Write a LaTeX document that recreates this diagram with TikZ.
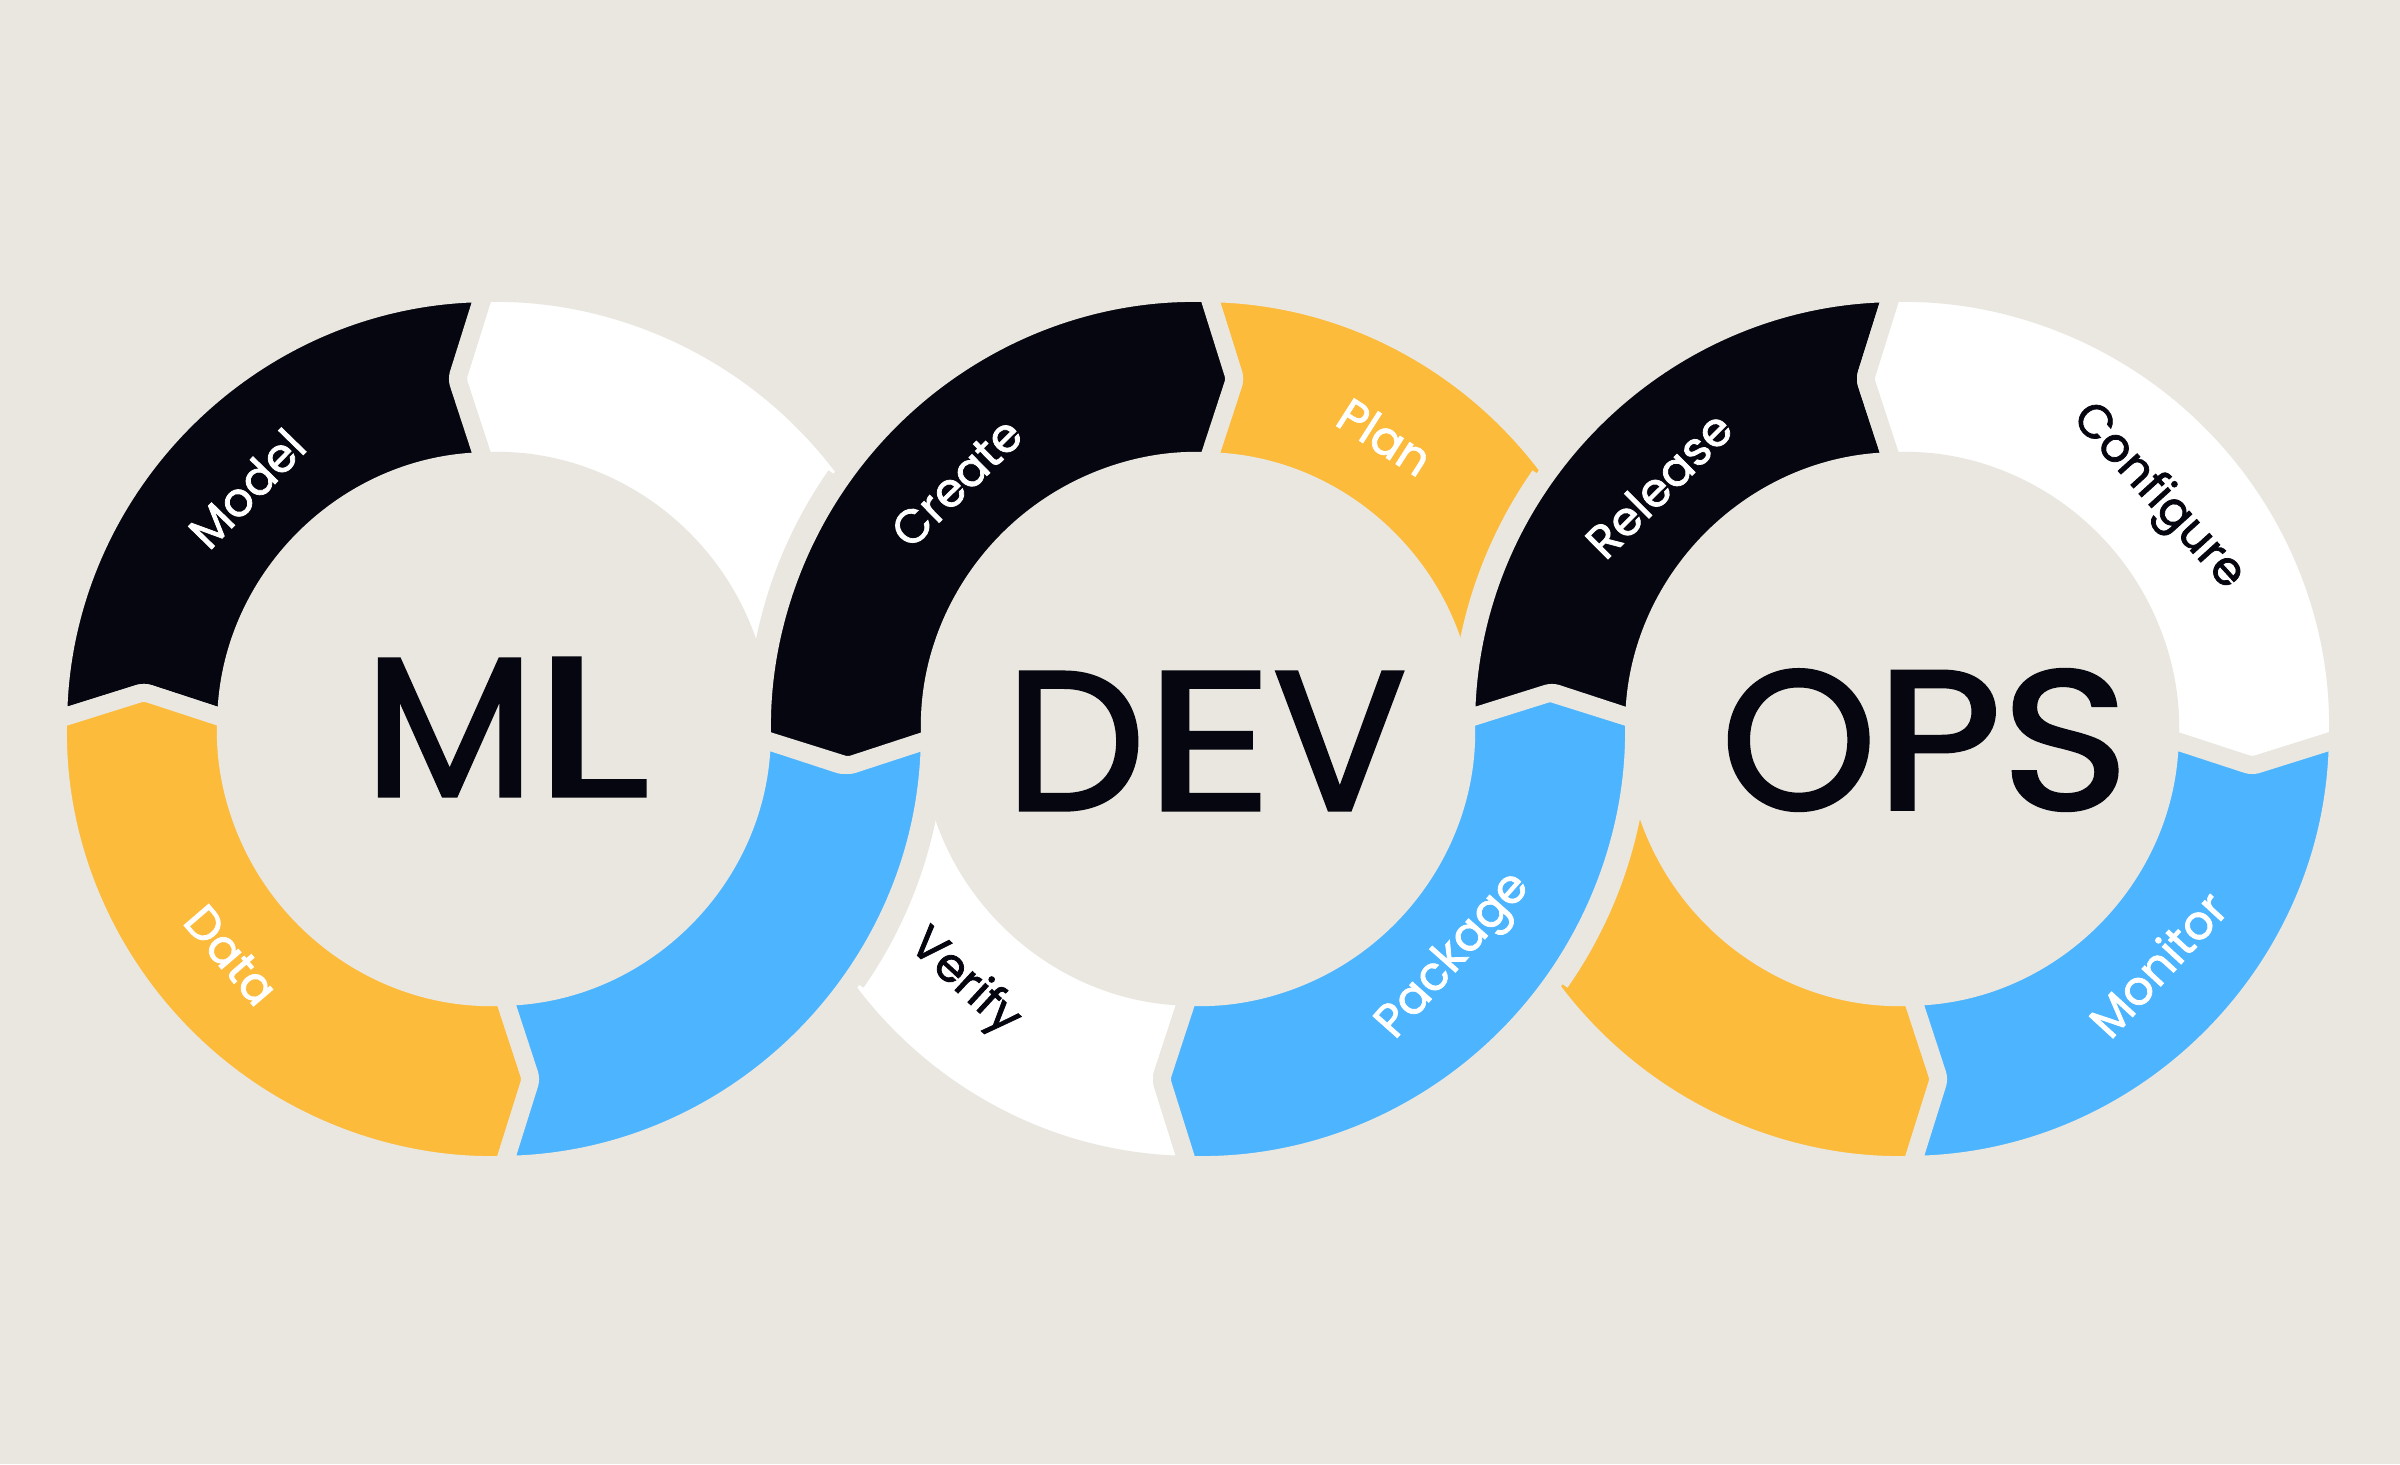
\documentclass[tikz,border=0pt]{standalone}
\usepackage{fontspec}
\usepackage{graphicx}
\setmainfont{Poppins}
\newfontfamily\bigfont[FakeBold=2]{Poppins}
\newfontfamily\lblfont[FakeBold=1.6]{Poppins}
\usetikzlibrary{calc}
\definecolor{bgc}{HTML}{E9E7E0}
\definecolor{ink}{HTML}{05060F}
\definecolor{ylw}{HTML}{FDBB3C}
\definecolor{blu}{HTML}{4DB5FF}
% #1,#2 centre; #3 start angle, #4 joint sign (0 = straight cut); #5 end angle, #6 joint sign; #7 colour
\newcommand\ringseg[7]{%
  \filldraw[fill=#7, draw=bgc, line width=18pt, line join=round, rounded corners=5pt, shift={(#1,#2)}]
    ({#3+(#4)*1.314}:436) arc[start angle={#3+(#4)*1.314}, end angle={#5+(#6)*1.314}, radius=436]
    -- ({#5+(#6)*6.022}:352) -- ({#5+(#6)*2.138}:268)
    arc[start angle={#5+(#6)*2.138}, end angle={#3+(#4)*2.138}, radius=268]
    -- ({#3+(#4)*6.022}:352) -- cycle;}
% wider gap where one ring passes over another: #1,#2 centre, #3,#4 angles
\newcommand\cutgap[4]{%
  \draw[bgc, line width=24pt, shift={(#1,#2)}]
    (#3:439) arc[start angle=#3, end angle=#4, radius=439];}
\newcommand\wideletter[2]{\scalebox{#1}[1]{#2}}
\begin{document}
\begin{tikzpicture}[x=1pt,y=1pt,
  lbl/.style={font={\lblfont\fontsize{47}{47}\selectfont}, inner sep=0pt},
  big/.style={font={\bigfont\fontsize{197}{197}\selectfont}, text=ink, inner sep=0pt}]
\fill[bgc] (0,0) rectangle (2400,1464);
\useasboundingbox (0,0) rectangle (2400,1464);
\coordinate (c1) at (494,735);
\coordinate (c2) at (1198,735);
\coordinate (c3) at (1902,735);
% segments passing underneath
\ringseg{494}{735}{0}{0}{90}{1}{white}
\ringseg{1198}{735}{180}{0}{270}{-1}{white}
\ringseg{1198}{735}{0}{0}{90}{-1}{ylw}
\ringseg{1902}{735}{180}{0}{270}{1}{ylw}
% gaps cut by the segments passing over
\cutgap{1198}{735}{145}{178}
\cutgap{494}{735}{-35}{-2}
\cutgap{1902}{735}{145}{178}
\cutgap{1198}{735}{-35}{-2}
% remaining segments
\ringseg{494}{735}{90}{1}{180}{-1}{ink}
\ringseg{494}{735}{180}{-1}{270}{1}{ylw}
\ringseg{494}{735}{270}{1}{360}{-1}{blu}
\ringseg{1198}{735}{90}{-1}{180}{1}{ink}
\ringseg{1198}{735}{270}{-1}{360}{1}{blu}
\ringseg{1902}{735}{90}{1}{180}{-1}{ink}
\ringseg{1902}{735}{0}{-1}{90}{1}{white}
\ringseg{1902}{735}{270}{1}{360}{-1}{blu}
% labels
\node[lbl, text=white, rotate=45.8] (model) at ($(c1)+(135.8:345)$) {Model};
\node[lbl, text=white, rotate=-49.3] (data) at ($(c1)+(220.7:347)$) {Data};
\node[lbl, text=white, rotate=44.4] (create) at ($(c2)+(134.4:345)$) {Create};
\node[lbl, text=white, rotate=-32.6] (plan) at ($(c2)+(57.4:347)$) {Plan};
\node[lbl, text=ink, rotate=-42.7] (verify) at ($(c2)+(227.3:345)$) {Verify};
\node[lbl, text=white, rotate=48.4] (package) at ($(c2)+(-41.6:343)$) {Package};
\node[lbl, text=white, rotate=44.9] (release) at ($(c3)+(134.9:345)$) {Release};
\node[lbl, text=ink, rotate=-47.8] (configure) at ($(c3)+(42.2:345)$) {Configure};
\node[lbl, text=white, rotate=47.4] (monitor) at ($(c3)+(-42.6:347)$) {Monitor};
% big words
\node[big] (ml) at (507,737) {M\wideletter{1.35}{L}};
\node[big] (dev) at (1206,723) {D\wideletter{1.27}{E}V};
\node[big] (ops) at (1925,724) {O\wideletter{1.1}{P}\wideletter{1.1}{S}};
\end{tikzpicture}
\end{document}
